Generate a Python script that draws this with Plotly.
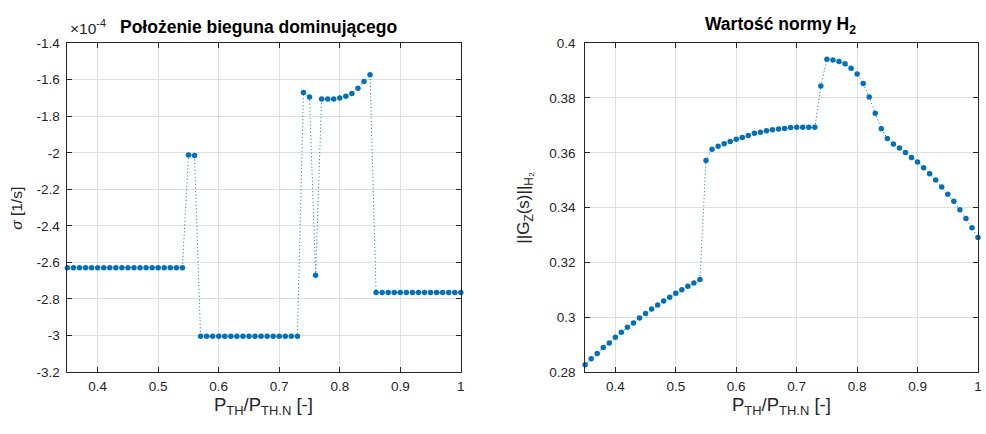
import plotly.graph_objects as go

# ---------------- data ----------------
p_ratio = [round(0.35 + 0.01 * i, 2) for i in range(66)]

sigma_e4 = (
    [-2.63] * 20 +
    [-2.012, -2.015] +
    [-3.005] * 17 +
    [-1.67, -1.694, -2.671, -1.706, -1.706, -1.705, -1.70, -1.69, -1.675, -1.647, -1.61, -1.573] +
    [-2.765] * 15
)

h2_norm = [
    0.2826, 0.2848, 0.2867, 0.2889, 0.2906, 0.2927, 0.2945, 0.2963, 0.2979, 0.2997,
    0.3013, 0.3030, 0.3044, 0.3059, 0.3073, 0.3087, 0.3100, 0.3113, 0.3125, 0.3137,
    0.3572, 0.3613, 0.3624, 0.3633, 0.3641, 0.3649, 0.3656, 0.3663, 0.3671, 0.3675,
    0.3680, 0.3684, 0.3687, 0.3689, 0.3692, 0.3693, 0.3693, 0.3693, 0.3693, 0.3844,
    0.3941, 0.3939, 0.3933, 0.3925, 0.3909, 0.3888, 0.3853, 0.3804, 0.3744, 0.3688,
    0.3652, 0.3632, 0.3617, 0.3601, 0.3583, 0.3566, 0.3545, 0.3523, 0.3501, 0.3475,
    0.3449, 0.3423, 0.3392, 0.3360, 0.3326, 0.3291,
]

x_ticks = [0.4, 0.5, 0.6, 0.7, 0.8, 0.9, 1.0]
x_tick_text = ["0.4", "0.5", "0.6", "0.7", "0.8", "0.9", "1"]
y1_ticks = [-1.4, -1.6, -1.8, -2.0, -2.2, -2.4, -2.6, -2.8, -3.0, -3.2]
y1_tick_text = ["-1.4", "-1.6", "-1.8", "-2", "-2.2", "-2.4", "-2.6", "-2.8", "-3", "-3.2"]
y2_ticks = [0.28, 0.30, 0.32, 0.34, 0.36, 0.38, 0.40]
y2_tick_text = ["0.28", "0.3", "0.32", "0.34", "0.36", "0.38", "0.4"]

# ---------------- styling ----------------
W, H = 986, 434
BLUE = "#0072BD"
AX = "#262626"
GRID = "#dfdfdf"
FONT = "Liberation Sans, Arial, sans-serif"

def fx(px):
    return px / W

def fy(py):
    return 1 - py / H

fig = go.Figure()

trace_style = dict(
    mode="lines+markers",
    line=dict(color=BLUE, width=1, dash="1px,2.5px"),
    marker=dict(color=BLUE, size=5.5),
    showlegend=False,
    hoverinfo="skip",
    cliponaxis=False,
)

fig.add_trace(go.Scatter(x=p_ratio, y=sigma_e4, xaxis="x", yaxis="y", **trace_style))
fig.add_trace(go.Scatter(x=p_ratio, y=h2_norm, xaxis="x2", yaxis="y2", **trace_style))

axis_common = dict(
    showline=True, linecolor=AX, linewidth=1, mirror="ticks",
    ticks="inside", ticklen=5, tickcolor=AX, tickwidth=1,
    showgrid=True, gridcolor=GRID, gridwidth=1,
    zeroline=False,
    tickfont=dict(family=FONT, size=13.5, color=AX),
)

y_top, y_bot = 37.5, 378
fig.update_layout(
    width=W, height=H,
    margin=dict(l=0, r=0, t=0, b=0),
    paper_bgcolor="white", plot_bgcolor="white",
    hovermode=False,
    xaxis=dict(domain=[fx(67.7), fx(462.7)], range=[0.35, 1.0], tickvals=x_ticks,
               ticktext=x_tick_text, anchor="y", ticklabelstandoff=2, **axis_common),
    yaxis=dict(domain=[fy(y_bot), fy(y_top)], range=[-3.2, -1.4], tickvals=y1_ticks,
               ticktext=y1_tick_text, anchor="x", ticklabelstandoff=4, **axis_common),
    xaxis2=dict(domain=[fx(587.5), fx(982)], range=[0.35, 1.0], tickvals=x_ticks,
                ticktext=x_tick_text, anchor="y2", ticklabelstandoff=2, **axis_common),
    yaxis2=dict(domain=[fy(y_bot), fy(y_top)], range=[0.28, 0.40], tickvals=y2_ticks,
                ticktext=y2_tick_text, anchor="x2", ticklabelstandoff=6, **axis_common),
)

def ann(text, x, y, size, xanchor="center", yanchor="middle", angle=0, bold=False, color="black"):
    fig.add_annotation(
        text=("<b>%s</b>" % text) if bold else text,
        x=fx(x), y=fy(y), xref="paper", yref="paper",
        xanchor=xanchor, yanchor=yanchor, textangle=angle, showarrow=False,
        font=dict(family=FONT, size=size, color=color),
    )

# titles
ann("Położenie bieguna dominującego", 260, 21, 17.5, bold=True)
ann("Wartość normy H<sub>2</sub>", 784, 19, 17.5, bold=True)
# exponent
ann("×10<sup>-4</sup>", 68, 21, 15.5, xanchor="left", color=AX)
# x labels
xl = "P<sub>TH</sub>/P<sub>TH.N</sub> [-]"
ann(xl, 265, 413, 18.5, color=AX)
ann(xl, 785, 413, 18.5, color=AX)
# y labels
ann("<i>σ</i> [1/s]", 17, 208, 15.5, angle=-90, color=AX)
ann('||G<sub>Z</sub>(s)||<sub>H<span style="font-size:13px">₂</span></sub>', 527, 208, 17, angle=-90, color=AX)

fig.write_html(
    "out.html",
    config={"displayModeBar": False, "staticPlot": True},
    post_script="document.body.style.margin='0';document.body.style.overflow='hidden';",
)
